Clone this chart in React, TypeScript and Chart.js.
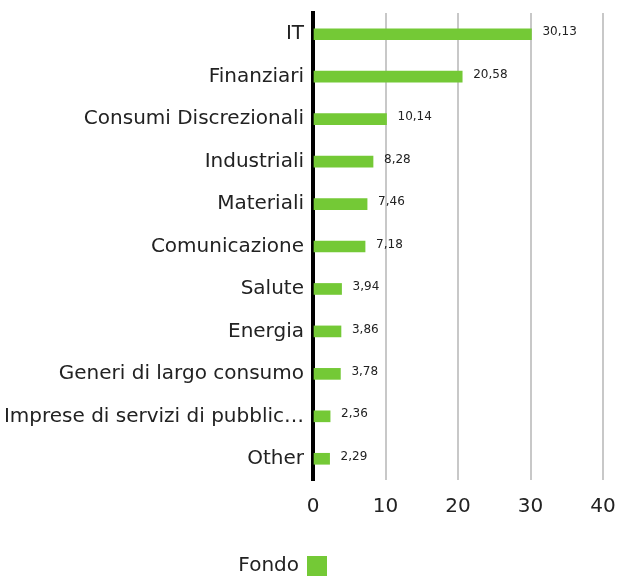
import React, { useEffect, useRef } from "react";
import { Chart, registerables } from "chart.js";

Chart.register(...registerables);

const categories = [
  "IT",
  "Finanziari",
  "Consumi Discrezionali",
  "Industriali",
  "Materiali",
  "Comunicazione",
  "Salute",
  "Energia",
  "Generi di largo consumo",
  "Imprese di servizi di pubblica utilità",
  "Other",
];
const fondoValues = [30.13, 20.58, 10.14, 8.28, 7.46, 7.18, 3.94, 3.86, 3.78, 2.36, 2.29];
const xTicks = [0, 10, 20, 30, 40];
const seriesName = "Fondo";

const FONT = "'DejaVu Sans', sans-serif";
const GREEN = "#74c936";

const valueLabels = {
  id: "valueLabels",
  afterDatasetsDraw(chart: any) {
    const ctx = chart.ctx;
    const meta = chart.getDatasetMeta(0);
    ctx.save();
    ctx.font = `12px ${FONT}`;
    ctx.fillStyle = "#222";
    ctx.textAlign = "left";
    ctx.textBaseline = "middle";
    meta.data.forEach((el: any, i: number) => {
      const v = fondoValues[i];
      ctx.fillText(v.toFixed(2).replace(".", ","), el.x + 11, el.y - 2);
    });
    ctx.restore();
  },
};

const customLegend = {
  id: "customLegend",
  afterDraw(chart: any) {
    const ctx = chart.ctx;
    const ds = chart.data.datasets[0];
    ctx.save();
    ctx.font = `20px ${FONT}`;
    ctx.fillStyle = "#222";
    ctx.textAlign = "right";
    ctx.textBaseline = "middle";
    const boxX = 307;
    const cy = 566;
    ctx.fillText(ds.label, boxX - 8, cy);
    ctx.fillStyle = ds.backgroundColor;
    ctx.fillRect(boxX, cy - 10, 20, 20);
    ctx.restore();
  },
};

export default function App() {
  const ref = useRef<HTMLCanvasElement>(null);
  useEffect(() => {
    document.body.style.margin = "0";
    const chart = new Chart(ref.current!, {
      type: "bar",
      data: {
        labels: categories,
        datasets: [
          {
            label: seriesName,
            data: fondoValues,
            backgroundColor: GREEN,
            barThickness: 11,
          },
        ],
      },
      options: {
        indexAxis: "y",
        animation: false,
        responsive: false,
        layout: { padding: { top: 13, right: 15, left: 0, bottom: 0 } },
        scales: {
          x: {
            min: 0,
            max: 40,
            afterBuildTicks(scale: any) {
              scale.ticks = xTicks.map((v) => ({ value: v }));
            },
            grid: {
              color: (c: any) => (c.tick && c.tick.value === 0 ? "rgba(0,0,0,0)" : "#c8c8c8"),
              lineWidth: 2,
              drawTicks: false,
            },
            border: { display: false },
            ticks: {
              color: "#222",
              font: { family: FONT, size: 20 },
              padding: 15,
            },
            afterFit(scale: any) {
              scale.height = 98;
              scale.paddingRight = 0;
              scale.paddingLeft = 0;
            },
          },
          y: {
            grid: { display: false },
            border: { display: true, color: "#000", width: 4 },
            ticks: {
              color: "#222",
              font: { family: FONT, size: 20 },
              padding: 1,
              callback(this: any, val: any) {
                const s = categories[val as number];
                return s.length > 30 ? s.slice(0, 29) + "…" : s;
              },
            },
            afterFit(scale: any) {
              scale.width = 313;
            },
          },
        },
        plugins: {
          legend: { display: false },
          tooltip: { enabled: false },
        },
      },
      plugins: [valueLabels, customLegend],
    });
    return () => chart.destroy();
  }, []);
  return <canvas ref={ref} width={618} height={578} style={{ display: "block" }} />;
}
